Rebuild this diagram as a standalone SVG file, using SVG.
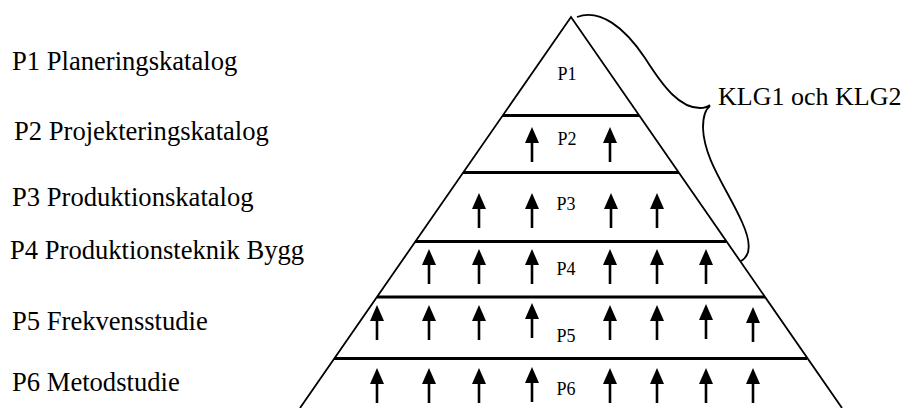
<svg xmlns="http://www.w3.org/2000/svg" xmlns:xlink="http://www.w3.org/1999/xlink" width="906" height="408" viewBox="0 0 906 408">
<style>
.lbl{font-family:"Liberation Serif","Times New Roman",serif;font-size:26.6px;fill:#000}
.klg{font-family:"Liberation Serif","Times New Roman",serif;font-size:26px;fill:#000}
.sm{font-family:"Liberation Serif","Times New Roman",serif;font-size:18px;fill:#000;text-anchor:middle}
.side{stroke:#000;stroke-width:1.8;fill:none}
.hl{stroke:#000;stroke-width:3;fill:none}
.shaft{stroke:#000;stroke-width:2.6}
</style>
<defs>
<g id="arr">
<line class="shaft" x1="0" y1="14" x2="0" y2="35"/>
<polygon points="0,0 -7,16 7,16" fill="#000"/>
</g>
</defs>
<rect width="906" height="408" fill="#fff"/>
<g id="legend">
<text class="lbl" x="12" y="70">P1 Planeringskatalog</text>
<text class="lbl" x="14" y="140">P2 Projekteringskatalog</text>
<text class="lbl" x="12" y="206">P3 Produktionskatalog</text>
<text class="lbl" x="10" y="259">P4 Produktionsteknik Bygg</text>
<text class="lbl" x="12" y="330">P5 Frekvensstudie</text>
<text class="lbl" x="12" y="391">P6 Metodstudie</text>
</g>
<g id="pyramid">
<polyline class="side" points="300,408 571,17 842,408"/>
<line class="hl" x1="503" y1="115.5" x2="639" y2="115.5"/>
<line class="hl" x1="463" y1="172.5" x2="679" y2="172.5"/>
<line class="hl" x1="415" y1="241.5" x2="726" y2="241.5"/>
<line class="hl" x1="377" y1="297" x2="765" y2="297"/>
<line class="hl" x1="334" y1="358.5" x2="807" y2="358.5"/>
</g>
<g id="level-P1"><text class="sm" x="567" y="80">P1</text></g>
<g id="level-P2"><text class="sm" x="567" y="145">P2</text>
<use xlink:href="#arr" x="532" y="127"/><use xlink:href="#arr" x="610" y="127"/></g>
<g id="level-P3"><text class="sm" x="566" y="210">P3</text>
<use xlink:href="#arr" x="479" y="193"/><use xlink:href="#arr" x="532" y="193"/><use xlink:href="#arr" x="611" y="193"/><use xlink:href="#arr" x="657" y="193"/></g>
<g id="level-P4"><text class="sm" x="566" y="275">P4</text>
<use xlink:href="#arr" x="429" y="249"/><use xlink:href="#arr" x="479" y="249"/><use xlink:href="#arr" x="532" y="249"/><use xlink:href="#arr" x="610" y="249"/><use xlink:href="#arr" x="657" y="249"/><use xlink:href="#arr" x="706" y="249"/></g>
<g id="level-P5"><text class="sm" x="566" y="342">P5</text>
<use xlink:href="#arr" x="377" y="305"/><use xlink:href="#arr" x="429" y="305"/><use xlink:href="#arr" x="479" y="305"/><use xlink:href="#arr" x="532" y="303"/><use xlink:href="#arr" x="610" y="305"/><use xlink:href="#arr" x="657" y="305"/><use xlink:href="#arr" x="706" y="304"/><use xlink:href="#arr" x="753" y="307"/></g>
<g id="level-P6"><text class="sm" x="566" y="395">P6</text>
<use xlink:href="#arr" x="377" y="368"/><use xlink:href="#arr" x="429" y="368"/><use xlink:href="#arr" x="479" y="368"/><use xlink:href="#arr" x="532" y="367"/><use xlink:href="#arr" x="610" y="368"/><use xlink:href="#arr" x="657" y="368"/><use xlink:href="#arr" x="706" y="368"/><use xlink:href="#arr" x="753" y="368"/></g>
<g id="connectors">
<path class="side" d="M577,17 C600,8 625,28 645,58 C664,88 680,108 700,108 Q706,108 710,105 M710,106 Q703,111 703,128 C704,160 728,190 742,222 C752,244 750,256 741,261"/>
</g>
<g id="brace-label"><text class="klg" x="718" y="105">KLG1 och KLG2</text></g>
</svg>
